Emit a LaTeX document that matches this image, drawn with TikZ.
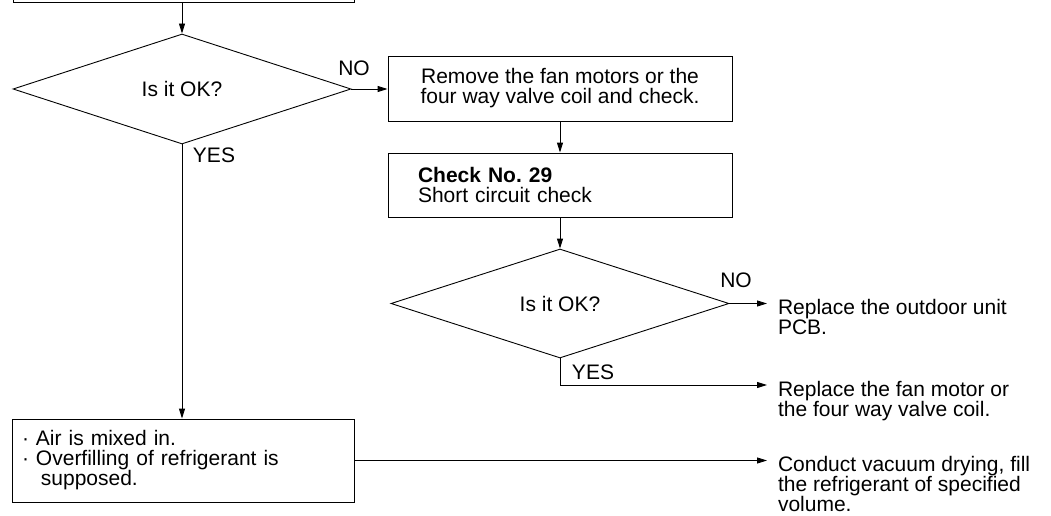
\documentclass[tikz,border=0pt]{standalone}
\usepackage{fontspec}
\setmainfont{Liberation Sans}
\usepackage{tikz}
\usetikzlibrary{arrows.meta, shapes.geometric}

\begin{document}
\begin{tikzpicture}[x=1pt, y=-1pt, line width=0.9pt,
        every node/.style={font=\fontsize{21}{20}\selectfont},
        box/.style={draw, rectangle, inner sep=0pt, minimum width=344pt, minimum height=65pt, align=center},
        test/.style={draw, diamond, inner sep=0pt, minimum width=338pt, minimum height=110pt},
        note/.style={align=left, inner sep=0pt, outer xsep=11pt, anchor=north west},
        link/.style={-{Triangle[length=10pt, width=6pt]}}]
                \useasboundingbox (0,0) rectangle (1051,516);
                \node[box, minimum width=341pt, minimum height=40pt] (prev) at (183.5,-18) {};
                \node[test] (ok1) at (182,89) {Is it OK?};
                \node[box] (remove) at (560,88.5) {Remove the fan motors or the\\four way valve coil and check.};
                \node[box, minimum height=64pt, text width=284pt, inner xsep=30pt, align=left] (check) at (560,185) {\textbf{Check No.\ 29}\\Short circuit check};
                \node[test, minimum height=109pt] (ok2) at (560,303.5) {Is it OK?};
                \node[box, minimum width=342pt, minimum height=83pt, text width=322pt, inner xsep=10pt, align=left] (air) at (183,460.5) {·~Air is mixed in.\\·~Overfilling of refrigerant is\\\hspace*{0.9em}supposed.};
                \node[note] (pcb) at (767,299) {Replace the outdoor unit\\PCB.};
                \node[note] (fan) at (767,381) {Replace the fan motor or\\the four way valve coil.};
                \node[note] (vac) at (767,456) {Conduct vacuum drying, fill\\the refrigerant of specified\\volume.};
                \node (no1) at (354,68) {NO};
                \node (yes1) at (214,155) {YES};
                \node (no2) at (736,280) {NO};
                \node (yes2) at (593,372) {YES};
                \draw[link] (ok1.north |- prev.south) -- (ok1.north);
                \draw[link] (ok1.east) -- (ok1.east -| remove.west);
                \draw[link] (remove) -- (check);
                \draw[link] (check) -- (ok2);
                \draw[link] (ok1.south) -- (ok1.south |- air.north);
                \draw[link] (ok2.east) -- (ok2.east -| pcb.west);
                \draw[link] (ok2.south) |- ([yshift=-4pt]fan.north west);
                \draw[link] (air.east) -- (air.east -| vac.west);
            \end{tikzpicture}
\end{document}
